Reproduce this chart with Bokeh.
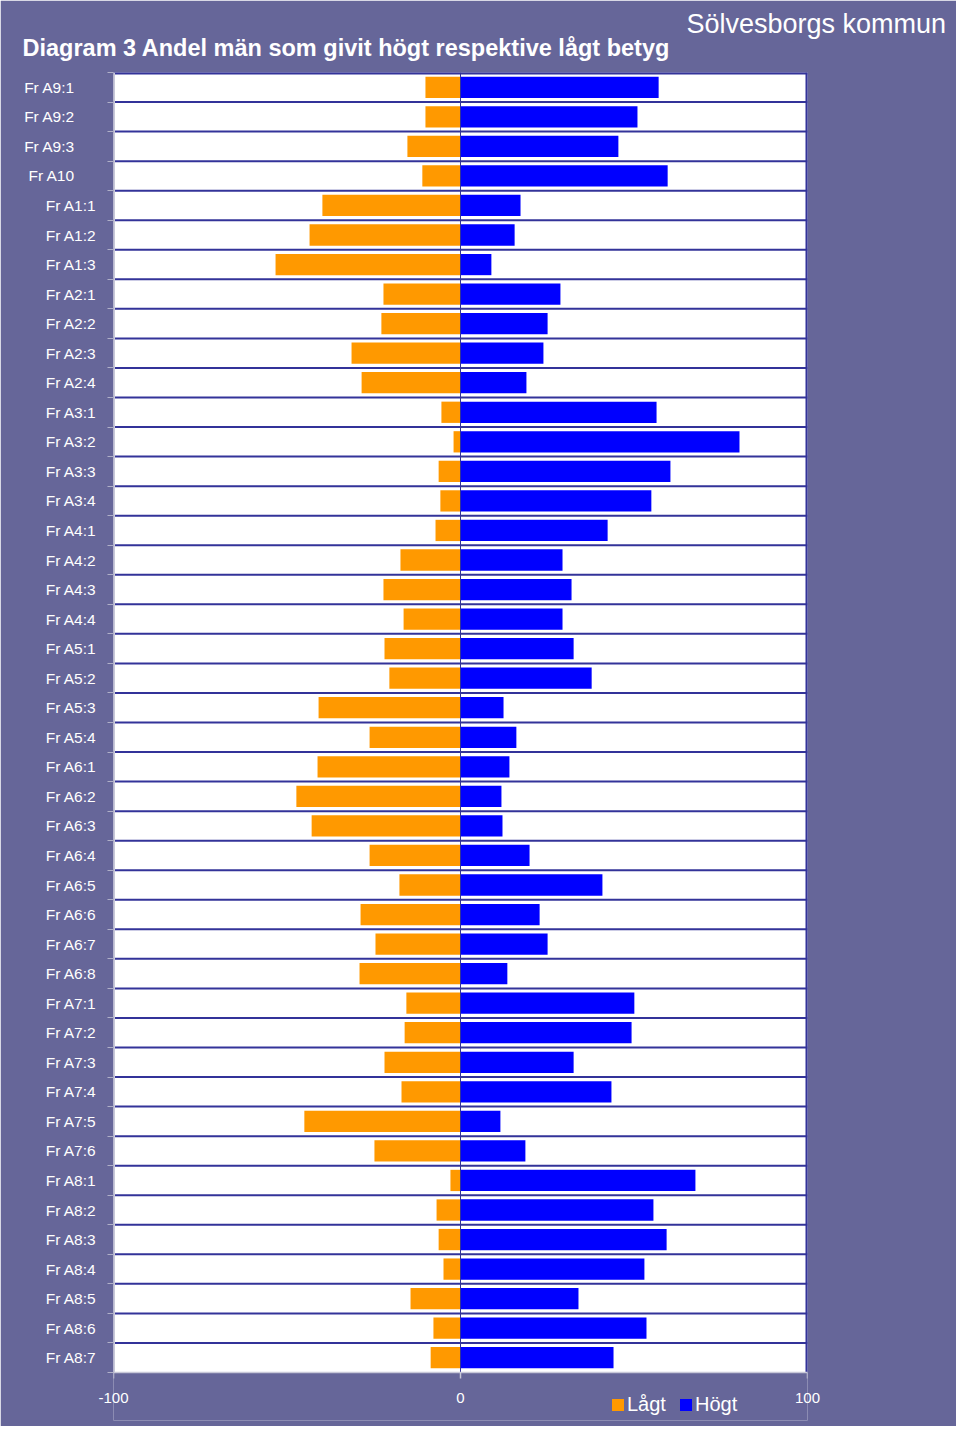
from bokeh.plotting import figure
from bokeh.models import (Range1d, FixedTicker, Legend, LegendItem, Title,
                          ColumnDataSource)
from bokeh.embed import file_html
from bokeh.resources import INLINE

categories = ["Fr A9:1", "Fr A9:2", "Fr A9:3", "Fr A10",
              "Fr A1:1", "Fr A1:2", "Fr A1:3",
              "Fr A2:1", "Fr A2:2", "Fr A2:3", "Fr A2:4",
              "Fr A3:1", "Fr A3:2", "Fr A3:3", "Fr A3:4",
              "Fr A4:1", "Fr A4:2", "Fr A4:3", "Fr A4:4",
              "Fr A5:1", "Fr A5:2", "Fr A5:3", "Fr A5:4",
              "Fr A6:1", "Fr A6:2", "Fr A6:3", "Fr A6:4", "Fr A6:5", "Fr A6:6", "Fr A6:7", "Fr A6:8",
              "Fr A7:1", "Fr A7:2", "Fr A7:3", "Fr A7:4", "Fr A7:5", "Fr A7:6",
              "Fr A8:1", "Fr A8:2", "Fr A8:3", "Fr A8:4", "Fr A8:5", "Fr A8:6", "Fr A8:7"]

lagt = [10.1, 10.1, 15.3, 11.0,
        39.8, 43.5, 53.3,
        22.2, 22.8, 31.4, 28.5,
        5.5, 2.0, 6.3, 5.8,
        7.2, 17.3, 22.2, 16.4,
        21.9, 20.5, 40.9, 26.2,
        41.2, 47.3, 42.9, 26.2, 17.6, 28.8, 24.5, 29.1,
        15.6, 16.1, 21.9, 17.0, 45.0, 24.8,
        2.9, 6.9, 6.3, 4.9, 14.4, 7.8, 8.6]

hogt = [57.1, 51.0, 45.5, 59.7,
        17.3, 15.6, 8.9,
        28.8, 25.1, 23.9, 19.0,
        56.5, 80.4, 60.5, 55.0,
        42.4, 29.4, 32.0, 29.4,
        32.6, 37.8, 12.4, 16.1,
        14.1, 11.8, 12.1, 19.9, 40.9, 22.8, 25.1, 13.5,
        50.1, 49.3, 32.6, 43.5, 11.5, 18.7,
        67.7, 55.6, 59.4, 53.0, 34.0, 53.6, 44.1]

x_ticks = [-100, 0, 100]
x_tick_labels = ["-100", "0", "100"]
title_text = "Diagram 3 Andel män som givit högt respektive lågt betyg"
subtitle_text = "Sölvesborgs kommun"
legend_labels = ["Lågt", "Högt"]

FONT = "Liberation Sans"
BG = "#666699"
NAVY = "#333399"
EDGE = "#c8c8d8"
NBSP = "\u00a0"

n = len(categories)
xmin, xmax = x_ticks[0], x_ticks[-1]
row_px = 1300 / n               # pixel height of one category row
y_low = -48 / row_px            # frame extends below the bars for the legend row
centers = [n - i - 0.5 for i in range(n)]
boundaries = list(range(0, n + 1))
neg_lagt = [-v for v in lagt]
zeros = [0] * n

src = ColumnDataSource(dict(y=centers, lagt=neg_lagt, hogt=hogt, zero=zeros))

p = figure(width=956, height=1426, output_backend="svg", toolbar_location=None,
           x_range=Range1d(xmin, xmax), y_range=Range1d(y_low, n),
           min_border_left=113, min_border_right=149, min_border_top=72, min_border_bottom=6)
p.background_fill_color = BG
p.border_fill_color = BG
p.outline_line_color = None

# white plotting area
p.quad(left=[xmin], right=[xmax], bottom=[0], top=[n], fill_color="white", line_color=None)

# row separators
p.xgrid.visible = False
p.ygrid.visible = False
inner = boundaries[1:-1]
p.segment(x0=[xmin] * len(inner), x1=[xmax] * len(inner), y0=inner, y1=inner,
          line_color=NAVY, line_width=2)

r_l = p.hbar(y="y", left="lagt", right="zero", height=0.72, source=src,
             fill_color="#FF9900", line_color=None)
r_h = p.hbar(y="y", left="zero", right="hogt", height=0.72, source=src,
             fill_color="#0000FF", line_color=None)

# zero line and frame edges
p.segment(x0=[0], x1=[0], y0=[0], y1=[n], line_color=NAVY, line_width=1)
p.segment(x0=[xmin], x1=[xmax], y0=[n], y1=[n], line_color=NAVY, line_width=4)
p.segment(x0=[xmax], x1=[xmax], y0=[0], y1=[n], line_color=NAVY, line_width=4)
p.segment(x0=[xmin], x1=[xmax], y0=[0], y1=[0], line_color=EDGE, line_width=1.5)
p.segment(x0=[xmin], x1=[xmin], y0=[0], y1=[n], line_color=EDGE, line_width=3)
# small x tick marks under the plotting area
p.segment(x0=x_ticks, x1=x_ticks, y0=[0] * 3, y1=[-6 / row_px] * 3,
          line_color=EDGE, line_width=1.5)

# y axis: category labels at row centres, small ticks at row boundaries
p.yaxis.ticker = FixedTicker(ticks=centers, minor_ticks=boundaries)
overrides = {}
for cat, yc in zip(categories, centers):
    pad = NBSP * 5 if (cat.startswith("Fr A9") or cat == "Fr A10") else ""
    overrides[yc] = cat + pad
p.yaxis.major_label_overrides = overrides
p.yaxis.major_label_text_color = "white"
p.yaxis.major_label_text_font = FONT
p.yaxis.major_label_text_font_size = "15.5px"
p.yaxis.major_label_standoff = 11
p.yaxis.major_tick_out = 0
p.yaxis.major_tick_in = 0
p.yaxis.major_tick_line_color = None
p.yaxis.minor_tick_out = 6
p.yaxis.minor_tick_in = 0
p.yaxis.minor_tick_line_color = "#b0b0c8"
p.yaxis.axis_line_color = None

# x axis (labels pulled up next to the plotting area)
p.xaxis.ticker = FixedTicker(ticks=x_ticks)
p.xaxis.major_label_overrides = dict(zip(x_ticks, x_tick_labels))
p.xaxis.major_label_text_color = "white"
p.xaxis.major_label_text_font = FONT
p.xaxis.major_label_text_font_size = "15px"
p.xaxis.major_label_standoff = -28
p.xaxis.major_tick_out = 0
p.xaxis.major_tick_in = 0
p.xaxis.major_tick_line_color = None
p.xaxis.minor_tick_line_color = None
p.xaxis.axis_line_color = None

# titles: subtitle is the outer one, main title sits next to the frame
p.title.text = subtitle_text
p.title.text_color = "white"
p.title.text_font = FONT
p.title.text_font_size = "27px"
p.title.text_font_style = "normal"
p.title.align = "left"
p.title.offset = 573
p.title.standoff = -37

main_title = Title(text=title_text, text_color="white", text_font=FONT,
                   text_font_size="23.5px", text_font_style="bold",
                   align="left", offset=-91, standoff=24)
p.add_layout(main_title, "above")

legend = Legend(items=[LegendItem(label=legend_labels[0], renderers=[r_l]),
                       LegendItem(label=legend_labels[1], renderers=[r_h])],
                location=(497, 4), orientation="horizontal",
                background_fill_alpha=0, border_line_color=None,
                label_text_color="white", label_text_font=FONT, label_text_font_size="20px",
                glyph_width=15, glyph_height=15, label_standoff=2, spacing=12,
                padding=0, margin=0)
p.add_layout(legend, "center")

open("out.html", "w").write(file_html(p, INLINE))
